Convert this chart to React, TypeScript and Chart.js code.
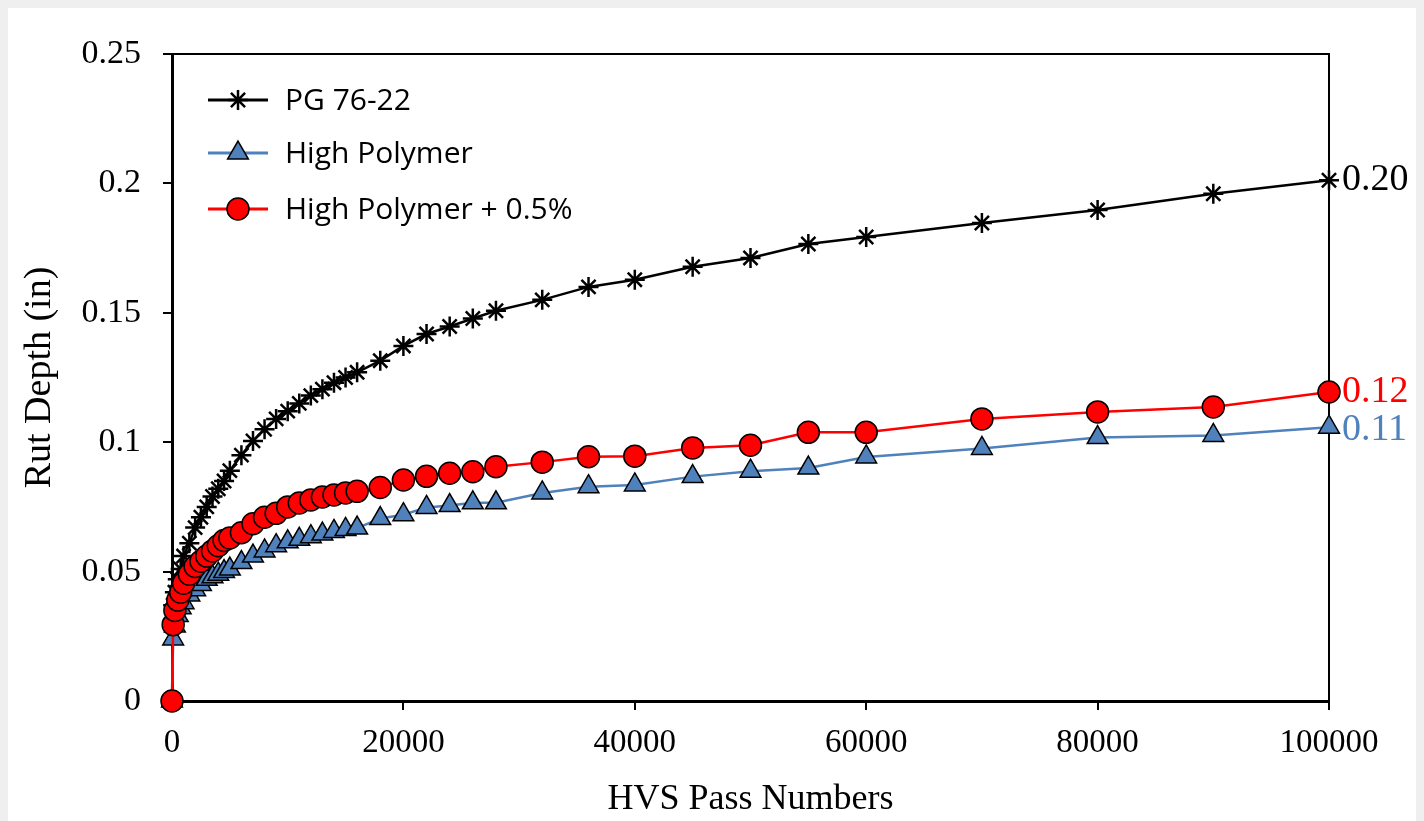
import React, { useEffect, useRef } from "react";
import { Chart, registerables } from "chart.js";
import { drawPoint } from "chart.js/helpers";

Chart.register(...registerables);

// ---- data ----
const passNumbers = [
  0, 100, 250, 500, 750, 1000, 1500, 2000, 2500, 3000, 3500, 4000, 4500, 5000,
  6000, 7000, 8000, 9000, 10000, 11000, 12000, 13000, 14000, 15000, 16000,
  18000, 20000, 22000, 24000, 26000, 28000, 32000, 36000, 40000, 45000, 50000,
  55000, 60000, 70000, 80000, 90000, 100000,
];

const pg7622 = [
  0, 0.037, 0.042, 0.047, 0.051, 0.056, 0.061, 0.067, 0.071, 0.075, 0.079,
  0.082, 0.085, 0.089, 0.095, 0.1005, 0.105, 0.109, 0.112, 0.115, 0.118,
  0.1205, 0.123, 0.125, 0.127, 0.1315, 0.1372, 0.1418, 0.1447, 0.1478, 0.1508,
  0.155, 0.16, 0.1628, 0.1678, 0.1712, 0.1766, 0.1793, 0.1847, 0.1897, 0.196,
  0.2012,
];

const highPolymer = [
  0, 0.024, 0.029, 0.033, 0.036, 0.038, 0.041, 0.043, 0.045, 0.047, 0.048,
  0.049, 0.05, 0.051, 0.0535, 0.056, 0.058, 0.06, 0.0615, 0.0625, 0.0635,
  0.0645, 0.0655, 0.0663, 0.0668, 0.0705, 0.072, 0.0748, 0.0755, 0.0766,
  0.0766, 0.0804, 0.0828, 0.0835, 0.0867, 0.0888, 0.09, 0.0943, 0.0976,
  0.1018, 0.1026, 0.1058,
];

const highPolymer05 = [
  0, 0.0295, 0.035, 0.039, 0.042, 0.0455, 0.049, 0.052, 0.054, 0.056, 0.058,
  0.06, 0.062, 0.063, 0.065, 0.0685, 0.071, 0.0725, 0.075, 0.0765, 0.0777,
  0.0788, 0.0796, 0.0804, 0.081, 0.0825, 0.0854, 0.0868, 0.088, 0.0886, 0.0905,
  0.0923, 0.0944, 0.0946, 0.0978, 0.0988, 0.1038, 0.1038, 0.109, 0.1117,
  0.1136, 0.1194,
];

const seriesNames = ["PG 76-22", "High Polymer", "High Polymer + 0.5%"];
const endLabels = ["0.20", "0.11", "0.12"];
const xTickValues = [0, 20000, 40000, 60000, 80000, 100000];
const xTickLabels = ["0", "20000", "40000", "60000", "80000", "100000"];
const yTickValues = [0, 0.05, 0.1, 0.15, 0.2, 0.25];
const yTickLabels = ["0", "0.05", "0.1", "0.15", "0.2", "0.25"];
const xTitle = "HVS Pass Numbers";
const yTitle = "Rut Depth (in)";

const SERIF = "'Liberation Serif', 'Times New Roman', serif";
const SANS = "'Open Sans', 'Noto Sans', sans-serif";
const BLUE = "#4F81BD";
const RED = "#FF0000";

const toPoints = (ys: number[]) => ys.map((y, i) => ({ x: passNumbers[i], y }));

const decorPlugin = {
  id: "decor",
  beforeDatasetsDraw(chart: any) {
    const { ctx, chartArea } = chart;
    const { left, top, right, bottom } = chartArea;
    ctx.save();
    ctx.strokeStyle = "#000";
    ctx.lineWidth = 2;
    ctx.beginPath();
    ctx.moveTo(left, top);
    ctx.lineTo(right, top);
    ctx.lineTo(right, bottom);
    ctx.stroke();
    ctx.restore();
  },
  afterDraw(chart: any) {
    const { ctx, chartArea } = chart;
    const datasets = chart.data.datasets;
    const rowY = [46, 99, 155];
    ctx.save();
    [0, 1, 2].forEach((i) => {
      const ds = datasets[i];
      const y = chartArea.top + rowY[i];
      const x0 = chartArea.left + 36;
      const x1 = chartArea.left + 96;
      ctx.strokeStyle = ds.borderColor;
      ctx.lineWidth = 3;
      ctx.beginPath();
      ctx.moveTo(x0, y);
      ctx.lineTo(x1, y);
      ctx.stroke();
      ctx.fillStyle = ds.pointBackgroundColor;
      ctx.strokeStyle = ds.pointBorderColor;
      ctx.lineWidth = ds.pointBorderWidth;
      drawPoint(
        ctx,
        { pointStyle: ds.pointStyle, radius: ds.pointRadius, rotation: 0, borderWidth: ds.pointBorderWidth },
        (x0 + x1) / 2,
        y
      );
      ctx.fillStyle = "#000";
      ctx.font = `30px ${SANS}`;
      ctx.textAlign = "left";
      ctx.textBaseline = "middle";
      ctx.fillText(seriesNames[i], chartArea.left + 113, y + 1);
    });
    datasets.forEach((ds: any, i: number) => {
      const meta = chart.getDatasetMeta(i);
      const last = meta.data[meta.data.length - 1];
      ctx.fillStyle = ds.labelColor;
      ctx.font = `38px ${SERIF}`;
      ctx.textAlign = "left";
      ctx.textBaseline = "middle";
      ctx.fillText(endLabels[i], last.x + 13, last.y + ds.labelDy);
    });
    ctx.restore();
  },
};

export default function App() {
  const canvasRef = useRef<HTMLCanvasElement | null>(null);

  useEffect(() => {
    document.body.style.background = "#efefef";
    document.body.style.overflow = "hidden";
    const canvas = canvasRef.current;
    if (!canvas) return;
    const chart = new Chart(canvas, {
      type: "line",
      data: {
        datasets: [
          {
            label: seriesNames[0],
            data: toPoints(pg7622),
            borderColor: "#000000",
            borderWidth: 2.5,
            pointStyle: "star",
            pointRadius: 10,
            pointBorderColor: "#000000",
            pointBackgroundColor: "#000000",
            pointBorderWidth: 2.5,
            order: 3,
            clip: false,
            labelColor: "#000000",
            labelDy: 0,
          } as any,
          {
            label: seriesNames[1],
            data: toPoints(highPolymer),
            borderColor: BLUE,
            borderWidth: 2.5,
            pointStyle: "triangle",
            pointRadius: 12,
            pointBorderColor: "#000000",
            pointBackgroundColor: BLUE,
            pointBorderWidth: 1.5,
            order: 2,
            clip: false,
            labelColor: BLUE,
            labelDy: 3,
          } as any,
          {
            label: seriesNames[2],
            data: toPoints(highPolymer05),
            borderColor: RED,
            borderWidth: 2.5,
            pointStyle: "circle",
            pointRadius: 11,
            pointBorderColor: "#000000",
            pointBackgroundColor: RED,
            pointBorderWidth: 1.5,
            order: 1,
            clip: false,
            labelColor: RED,
            labelDy: 0,
          } as any,
        ],
      },
      options: {
        animation: false,
        responsive: true,
        maintainAspectRatio: false,
        layout: { padding: { top: 49, right: 95, bottom: 0, left: 0 } },
        plugins: { legend: { display: false }, tooltip: { enabled: false } },
        elements: { line: { tension: 0 } },
        scales: {
          x: {
            type: "linear",
            min: 0,
            max: 100000,
            afterBuildTicks: (scale: any) => {
              scale.ticks = xTickValues.map((v) => ({ value: v }));
            },
            afterFit: (scale: any) => {
              scale.height = 120;
            },
            ticks: {
              autoSkip: false,
              maxRotation: 0,
              padding: 14,
              color: "#000",
              font: { family: SERIF, size: 33 },
              callback: (v: any) => {
                const idx = xTickValues.indexOf(Number(v));
                return idx >= 0 ? xTickLabels[idx] : "";
              },
            },
            grid: {
              display: true,
              drawOnChartArea: false,
              drawTicks: true,
              tickLength: 9,
              color: "#000",
              lineWidth: 2,
            },
            border: { display: true, color: "#000", width: 3 },
            title: {
              display: true,
              text: xTitle,
              color: "#000",
              font: { family: SERIF, size: 36 },
              padding: { top: 0, bottom: 0 },
            },
          },
          y: {
            type: "linear",
            min: 0,
            max: 0.25,
            afterBuildTicks: (scale: any) => {
              scale.ticks = yTickValues.map((v) => ({ value: v }));
            },
            afterFit: (scale: any) => {
              scale.width = 164;
            },
            ticks: {
              padding: 22,
              color: "#000",
              font: { family: SERIF, size: 34 },
              callback: (v: any) => {
                const idx = yTickValues.findIndex((t) => Math.abs(t - Number(v)) < 1e-9);
                return idx >= 0 ? yTickLabels[idx] : "";
              },
            },
            grid: {
              display: true,
              drawOnChartArea: false,
              drawTicks: true,
              tickLength: 9,
              color: "#000",
              lineWidth: 2,
            },
            border: { display: true, color: "#000", width: 3 },
            title: {
              display: true,
              text: yTitle,
              color: "#000",
              font: { family: SERIF, size: 38 },
              padding: { top: 9, bottom: 0 },
            },
          },
        },
      },
      plugins: [decorPlugin],
    });
    return () => chart.destroy();
  }, []);

  return (
    <div style={{ position: "relative", width: 1416, height: 816, marginTop: -3, background: "#ffffff" }}>
      <canvas ref={canvasRef} />
    </div>
  );
}
